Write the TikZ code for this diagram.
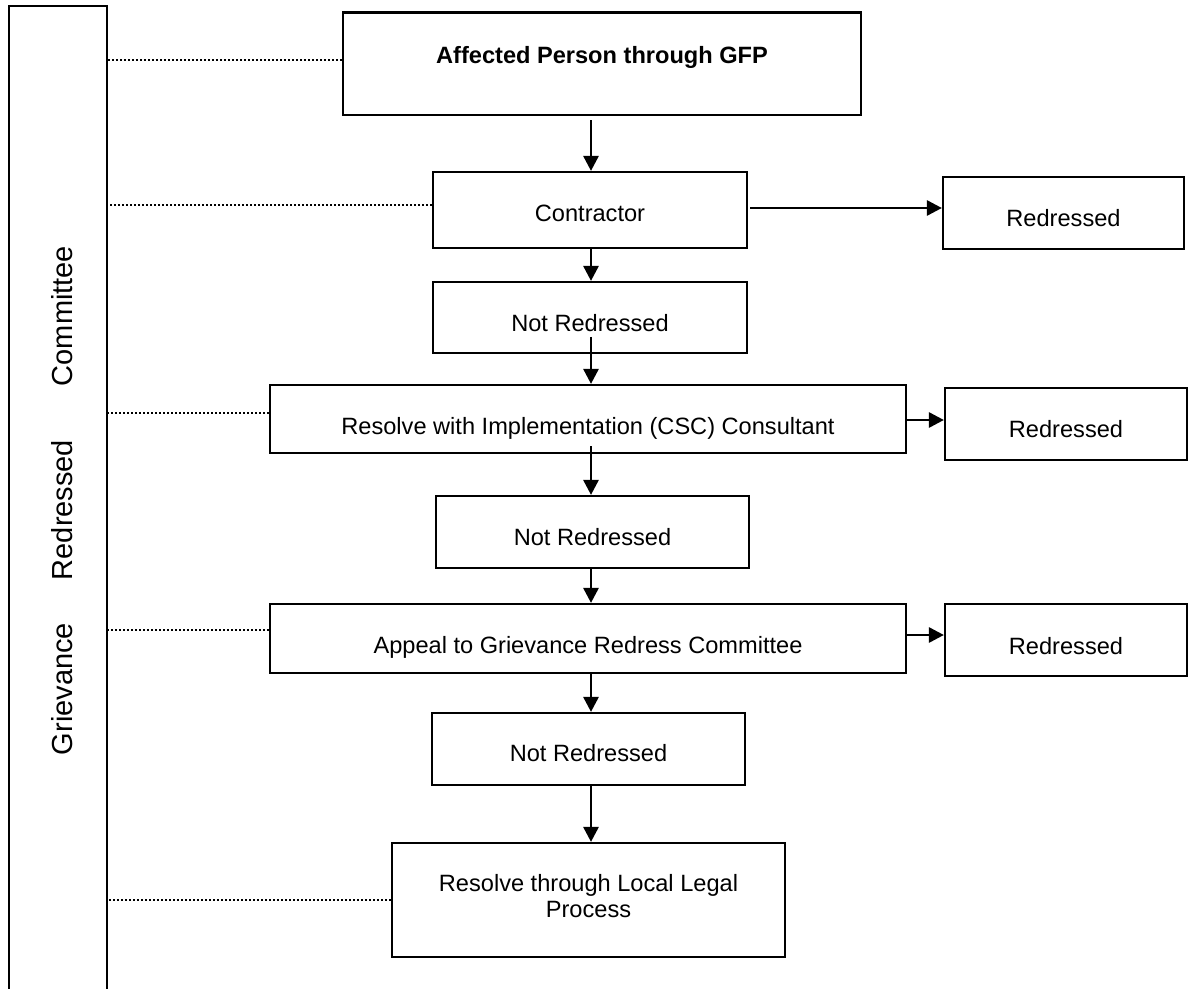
\documentclass[tikz,border=0pt]{standalone}
\usepackage{fontspec}
\setmainfont{Liberation Sans}
\usetikzlibrary{arrows.meta}
\begin{document}
\begin{tikzpicture}[x=1pt,y=-1pt,
  box/.style={draw, line width=2.2pt, inner sep=0pt,
    font=\fontsize{23.6}{26.7}\selectfont, text height=27pt, text depth=0pt},
  side/.style={rotate=90, anchor=base, inner sep=0pt, font=\fontsize{29}{32}\selectfont},
  flow/.style={line width=2.8pt, -{Triangle[length=15pt,width=15pt]}},
  dots/.style={line width=2.4pt, dash pattern=on 2pt off 2pt}
]
\useasboundingbox[fill=white] (0,0) rectangle (1191,988);

% left vertical bar (open at bottom)
\node[draw, line width=2.2pt, minimum width=98pt, minimum height=1100pt, anchor=north, inner sep=0pt] (bar) at (58,4.5) {};
\node[side] (lc) at (72.5,316) {Committee};
\node[side] (lr) at (72.5,510) {Redressed};
\node[side] (lg) at (72.5,689) {Grievance};

% main boxes
\node[box, minimum width=518pt, minimum height=102.5pt, text height=17pt, text depth=18.4pt,
      font={\fontsize{23.6}{26.7}\selectfont\bfseries}] (top) at (602,63.7) {Affected Person through GFP};
\node[box, minimum width=314pt, minimum height=76pt, text height=22pt] (contr) at (590,210) {Contractor};
\node[box, minimum width=314pt, minimum height=71pt] (nr1) at (590,317.5) {Not Redressed};
\node[box, minimum width=241pt, minimum height=72pt, text height=26pt] (red1) at (1063.5,213) {Redressed};
\node[box, minimum width=636pt, minimum height=68pt, text height=30pt] (res) at (588,419) {Resolve with Implementation (CSC) Consultant};
\node[box, minimum width=242pt, minimum height=72pt] (red2) at (1066,424) {Redressed};
\node[box, minimum width=313pt, minimum height=72pt, text height=26pt] (nr2) at (592.5,532) {Not Redressed};
\node[box, minimum width=636pt, minimum height=69pt, text height=29pt] (app) at (588,638.5) {Appeal to Grievance Redress Committee};
\node[box, minimum width=242pt, minimum height=72pt, text height=28pt] (red3) at (1066,640) {Redressed};
\node[box, minimum width=313pt, minimum height=72pt, text height=25.4pt] (nr3) at (588.5,749) {Not Redressed};
\node[box, minimum width=393pt, minimum height=114pt, align=center, text height=43.7pt, text depth=8.3pt] (legal) at (588.5,900) {Resolve through Local Legal\\Process};

% vertical arrows
\coordinate (ax) at (591,0);
\draw[flow, shorten <=4pt] (top.south -| ax) -- (contr.north -| ax);
\draw[flow] (contr.south -| ax) -- (nr1.north -| ax);
\draw[flow, shorten <=-17.3pt] (nr1.south -| ax) -- (res.north -| ax);
\draw[flow, shorten <=-8pt] (res.south -| ax) -- (nr2.north -| ax);
\draw[flow] (nr2.south -| ax) -- (app.north -| ax);
\draw[flow] (app.south -| ax) -- (nr3.north -| ax);
\draw[flow] (nr3.south -| ax) -- (legal.north -| ax);

% horizontal arrows
\draw[flow] ([shift={(2,-2)}]contr.east) coordinate (s1) -- (s1 -| red1.west);
\draw[flow] ([shift={(0,1)}]res.east) coordinate (s2) -- (s2 -| red2.west);
\draw[flow] ([shift={(0,-3.5)}]app.east) coordinate (s3) -- (s3 -| red3.west);

% dotted links
\draw[dots] ([yshift=3.7pt]top.west) coordinate (d1) -- (d1 -| bar.east);
\draw[dots] ([yshift=5pt]contr.west) coordinate (d2) -- (d2 -| bar.east);
\draw[dots] ([yshift=6pt]res.west) coordinate (d3) -- (d3 -| bar.east);
\draw[dots] ([yshift=8.5pt]app.west) coordinate (d4) -- (d4 -| bar.east);
\draw[dots] (legal.west) -- (legal.west -| bar.east);
\end{tikzpicture}
\end{document}
